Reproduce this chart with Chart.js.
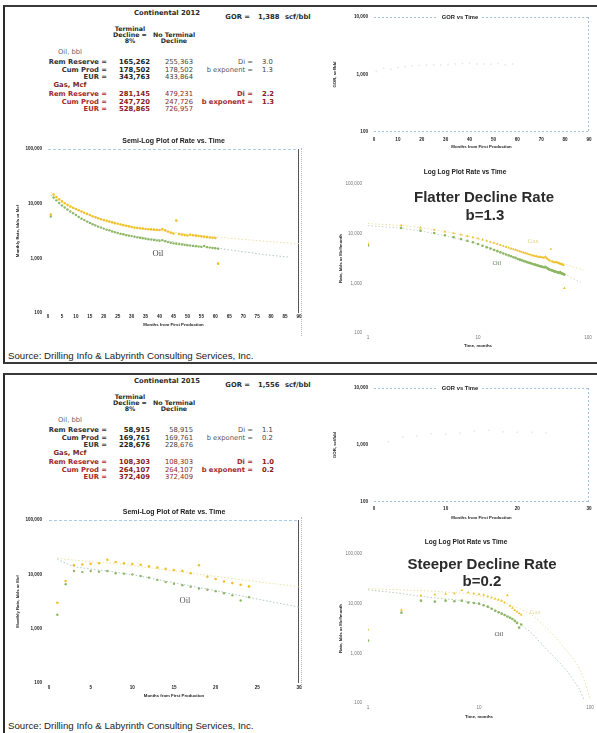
<!DOCTYPE html>
<html>
<head>
<meta charset="utf-8">
<title>Continental 2012 vs 2015 decline</title>
<script src="https://cdn.jsdelivr.net/npm/chart.js@4.4.1/dist/chart.umd.min.js"></script>
<style>
  html, body { margin: 0; padding: 0; background: #fff; }
  body { position: relative; width: 597px; height: 733px; overflow: hidden; font-family: "Liberation Sans", Arial, sans-serif; }
  canvas { position: absolute; }
  .panel { position: absolute; left: 3px; width: 620px; box-sizing: border-box; border-left: 2px solid #2a2a2a; border-top: 2px solid #3a3a3a; }
  #panel2012 { top: 5px; height: 359px; border-bottom: 2px solid #3a3a3a; }
  #panel2015 { top: 373px; height: 400px; }
  .sep { position: absolute; left: 301px; width: 0; border-left: 1px dotted #b5b5b5; }
  .t { position: absolute; white-space: nowrap; line-height: 1; font-weight: bold; color: #2b2b2b; font-size: 6.8px; font-family: "DejaVu Sans", sans-serif; }
</style>
</head>
<body>
<div class="panel" id="panel2012"></div>
<div class="panel" id="panel2015"></div>
<div class="sep" style="top:148px;height:188px"></div>
<div class="sep" style="top:517px;height:172px"></div>

<script>
/* =========================================
   Data
   ========================================= */

// Continental 2012 - monthly rates
const months2012 = [1,2,3,4,5,6,7,8,9,10,11,12,13,14,15,16,17,18,19,20,
    21,22,23,24,25,26,27,28,29,30,31,32,33,34,35,36,37,38,39,40,
    41,42,43,44,45,46,47,48,49,50,51,52,53,54,55,56,57,58,59,60,61];
const oil2012 = [5800,13000,11500,10300,9300,8500,7800,7200,6700,6200,
    5700,5300,5000,4700,4450,4200,4000,3800,3650,3500,
    3350,3250,3100,3000,2900,2800,2750,2650,2600,2550,
    2480,2420,2380,2330,2280,2240,2200,2160,2130,2100,
    2150,2050,1980,1930,1880,1850,1820,1790,1760,1740,
    1710,1690,1660,1640,1620,1680,1600,1570,1550,1530,1500];
const gas2012 = [6300,14700,13200,12000,11000,10200,9500,8900,8400,8000,
    7600,7200,6800,6500,6200,5900,5650,5400,5200,5000,
    4850,4700,4550,4400,4280,4150,4050,3950,3850,3750,
    3650,3600,3550,3500,3450,3400,3380,3350,3320,3300,
    3420,3250,3100,2950,2850,4900,2780,2720,2660,2620,
    2700,2650,2600,2560,2520,2480,2440,2400,2380,2350,800];
const oilFcstMonths2012 = [1,2,3,4,6,8,11,16,21,31,41,51,61,71,81,86];
const oilFcst2012 = [14500,12800,11300,10000,8300,7000,5800,4300,3400,2550,2150,1780,1530,1300,1120,1060];
const gasFcstMonths2012 = [1,2,3,4,6,8,11,16,21,31,41,51,61,71,81,91];
const gasFcst2012 = [16000,14500,13200,12000,10300,9000,7500,5800,4900,3700,3150,2750,2450,2200,2000,1850];
const gorMonths2012 = [1,4,7,10,13,16,19,22,25,28,31,34,37,40,43,46,49,52,55,58];
const gor2012 = [1130,1280,1240,1330,1380,1410,1430,1460,1480,1470,1490,1520,1550,1570,1530,1520,1500,1560,1480,1530];

// Continental 2015 - monthly rates
const months2015 = [1,2,3,4,5,6,7,8,9,10,11,12,13,14,15,16,17,18,19,20,21,22,23,24];
const oil2015 = [1800,6600,11500,11000,11500,11200,11500,10500,10300,10000,9300,8700,
    7900,7200,6700,6300,5900,5500,5200,4900,4500,4100,3300,3800];
const gas2015 = [3000,7500,14700,15200,15700,16000,18600,16900,16000,15500,15000,14000,
    13300,12600,12000,11500,10500,14700,9000,8200,7400,6900,6400,6000];
const oilFcstMonths2015 = [1,2,3,5,7,10,15,20,25,30,40,50,60,70,80,88];
const oilFcst2015 = [19000,16000,14000,12500,11500,9800,7000,5000,3500,2500,1250,750,480,300,190,120];
const gasFcstMonths2015 = [1,2,3,5,8,12,15,20,25,30,40,50,60,70,80,90,100];
const gasFcst2015 = [20000,19000,18300,17200,15700,13200,11500,9200,7300,5900,3300,2000,1200,800,500,260,120];
const gorMonths2015 = [2,4,6,8,10,12,14,16,18,20,22,24];
const gor2015 = [1140,1380,1430,1570,1550,1610,1750,1820,1700,1670,1680,1630];

// Axis ticks
const rateTicks = [100, 1000, 10000, 100000];
const gorTicks = [100, 1000, 10000];
const logTimeTicks = [1, 10, 100];

// Reserve tables: [label, terminal, noTerminal, sideLabel, sideValue]
const oilRows2012 = [['Rem Reserve =', '165,262', '255,363', 'Di =', '3.0'],
    ['Cum Prod =', '178,502', '178,502', 'b exponent =', '1.3'],
    ['EUR =', '343,763', '433,864', '', '']];
const gasRows2012 = [['Rem Reserve =', '281,145', '479,231', 'Di =', '2.2'],
    ['Cum Prod =', '247,720', '247,726', 'b exponent =', '1.3'],
    ['EUR =', '528,865', '726,957', '', '']];
const oilRows2015 = [['Rem Reserve =', '58,915', '58,915', 'Di =', '1.1'],
    ['Cum Prod =', '169,761', '169,761', 'b exponent =', '0.2'],
    ['EUR =', '228,676', '228,676', '', '']];
const gasRows2015 = [['Rem Reserve =', '108,303', '108,303', 'Di =', '1.0'],
    ['Cum Prod =', '264,107', '264,107', 'b exponent =', '0.2'],
    ['EUR =', '372,409', '372,409', '', '']];

/* =========================================
   Colours
   ========================================= */
const GAS = '#efc12c';
const OIL = '#8db763';
const GAS_F = '#eee0a0';
const OIL_F = '#aec8c6';
const GOR_C = 'rgba(180,188,196,0.3)';
const FRAME_BLUE = '#9fc2df';

Chart.defaults.font.family = '"Liberation Sans", Arial, sans-serif';

/* =========================================
   Helpers
   ========================================= */
function put(text, x, y, align, style) {
    const el = document.createElement('div');
    el.className = 't';
    el.textContent = text;
    el.style.left = x + 'px';
    el.style.top = y + 'px';
    const tx = align === 'r' ? '-100%' : (align === 'c' ? '-50%' : '0');
    el.style.transform = `translate(${tx}, -50%)`;
    if (style) Object.assign(el.style, style);
    document.body.appendChild(el);
}

function drawTable(o, name, gor, oilRows, gasRows) {
    put(name, 167, o + 13, 'c');
    put('GOR =', 250, o + 17, 'r');
    put(gor, 258, o + 17, 'l');
    put('scf/bbl', 285, o + 17, 'l');
    const hd = {fontSize: '6.3px'};
    put('Terminal', 130, o + 29, 'c', hd);
    put('Decline =', 130, o + 35, 'c', hd);
    put('8%', 130, o + 41, 'c', hd);
    put('No Terminal', 174, o + 35, 'c', hd);
    put('Decline', 174, o + 41, 'c', hd);

    put('Oil, bbl', 70, o + 52, 'c', {color: '#666', fontWeight: 'normal'});
    oilRows.forEach((r, i) => {
        const y = o + [62, 70, 77][i];
        put(r[0], 107, y, 'r', {color: '#333'});
        put(r[1], 150, y, 'r', {color: '#222'});
        put(r[2], 193, y, 'r', {color: '#444', fontWeight: 'normal'});
        if (r[3]) put(r[3], 253, y, 'r', {color: '#555', fontWeight: 'normal'});
        if (r[4]) put(r[4], 262, y, 'l', {color: '#444', fontWeight: 'normal'});
    });

    put('Gas, Mcf', 70, o + 85, 'c', {color: '#7a1f1f'});
    gasRows.forEach((r, i) => {
        const y = o + [94, 102, 109][i];
        put(r[0], 107, y, 'r', {color: '#a52a2a'});
        put(r[1], 150, y, 'r', {color: '#8a2020'});
        put(r[2], 193, y, 'r', {color: '#8a2a2a', fontWeight: 'normal'});
        if (r[3]) put(r[3], 253, y, 'r', {color: '#a52a2a'});
        if (r[4]) put(r[4], 262, y, 'l', {color: '#8a2020'});
    });
}

const pts = (xs, ys) => xs.map((x, i) => ({x: x, y: ys[i]}));
const dataSet = (xs, ys, color, style, r) => ({
    data: pts(xs, ys), showLine: false, pointStyle: style, pointRadius: r,
    pointBackgroundColor: color, pointBorderColor: color, pointBorderWidth: 0
});
const fcstSet = (xs, ys, color) => ({
    data: pts(xs, ys), showLine: true, pointRadius: 0, borderColor: color,
    borderWidth: 1, borderDash: [1.5, 2], cubicInterpolationMode: 'monotone'
});
const fmt = v => Number(v).toLocaleString('en-US');

// draws the plot-area edges (Excel style frame)
const framePlugin = {
    id: 'frame',
    beforeDatasetsDraw(chart, args, opts) {
        if (!opts.sides) return;
        const {ctx, chartArea: a} = chart;
        let gapL = null, gapR = null;
        if (opts.titleGap && chart.titleBlock) {
            const t = chart.options.plugins.title;
            ctx.save();
            ctx.font = Chart.helpers.toFont(t.font).string;
            const w = ctx.measureText(t.text).width + 8;
            ctx.restore();
            const tb = chart.titleBlock;
            const cx = tb.left + tb.width / 2;
            gapL = cx - w / 2;
            gapR = cx + w / 2;
        }
        ctx.save();
        Object.entries(opts.sides).forEach(([side, s]) => {
            ctx.strokeStyle = s.color;
            ctx.lineWidth = s.width || 1;
            ctx.setLineDash(s.dash || []);
            ctx.beginPath();
            if (side === 'top') {
                const y = a.top + 0.5;
                if (gapL !== null) {
                    ctx.moveTo(a.left, y); ctx.lineTo(gapL, y);
                    ctx.moveTo(gapR, y); ctx.lineTo(a.right, y);
                } else {
                    ctx.moveTo(a.left, y); ctx.lineTo(a.right, y);
                }
            } else if (side === 'bottom') {
                ctx.moveTo(a.left, a.bottom - 0.5); ctx.lineTo(a.right, a.bottom - 0.5);
            } else if (side === 'right') {
                ctx.moveTo(a.right - 0.5, a.top); ctx.lineTo(a.right - 0.5, a.bottom);
            } else if (side === 'left') {
                ctx.moveTo(a.left + 0.5, a.top); ctx.lineTo(a.left + 0.5, a.bottom);
            }
            ctx.stroke();
        });
        ctx.restore();
    }
};

// spec positions are page pixels; they are turned into paddings / axis sizes
function buildChart(spec) {
    const b = spec.box;
    const canvas = document.createElement('canvas');
    canvas.width = b.w; canvas.height = b.h;
    canvas.style.left = b.x + 'px'; canvas.style.top = b.y + 'px';
    canvas.style.width = b.w + 'px'; canvas.style.height = b.h + 'px';
    document.body.appendChild(canvas);

    const aL = spec.area.l - b.x, aT = spec.area.t - b.y, aR = spec.area.r - b.x, aB = spec.area.b - b.y;
    const padL = spec.padLeft || 0;
    const padR = b.w - aR;
    const ts = spec.title.size;
    const tTop = spec.title.y - b.y - ts / 2;

    const tickFont = {size: 4.6, weight: spec.tickWeight || 'bold', lineHeight: 1};
    const axFont = {size: 4.3, weight: 'bold', lineHeight: 1};

    const zeroPad = s => { s.paddingLeft = 0; s.paddingRight = 0; s.paddingTop = 0; s.paddingBottom = 0; };
    const setTicks = vals => s => { s.ticks = vals.map(v => ({value: v})); };

    const axis = (ax, horizontal) => ({
        type: ax.type, min: ax.min, max: ax.max,
        grid: {display: false, drawTicks: false},
        border: {display: false},
        ticks: {
            font: tickFont, color: spec.tickColor || '#222', autoSkip: false, maxRotation: 0,
            stepSize: ax.step,
            padding: horizontal ? (ax.tickY - spec.area.b - tickFont.size / 2) : (spec.area.l - ax.tickRight),
            callback: v => fmt(v)
        },
        afterBuildTicks: ax.ticks ? setTicks(ax.ticks) : undefined,
        afterFit: s => {
            if (horizontal) s.height = b.h - aB; else s.width = aL - padL;
            zeroPad(s);
        },
        title: {
            display: true, text: ax.title, font: axFont, color: '#222',
            padding: horizontal
                ? {top: 0, bottom: b.h - (ax.titleY - b.y) - axFont.size / 2}
                : {top: (ax.titleX - b.x) - padL - axFont.size / 2, bottom: 0}
        }
    });

    return new Chart(canvas, {
        type: 'scatter',
        data: {datasets: spec.datasets},
        options: {
            responsive: false,
            animation: false,
            devicePixelRatio: 1,
            layout: {padding: {left: padL, right: padR, top: 0, bottom: 0}},
            plugins: {
                legend: {display: false},
                tooltip: {enabled: false},
                title: {
                    display: true, text: spec.title.text, fullSize: spec.title.full,
                    color: '#222', font: {size: ts, weight: 'bold', lineHeight: 1},
                    padding: {top: tTop, bottom: aT - ts - tTop}
                },
                frame: spec.frame || {}
            },
            scales: {x: axis(spec.x, true), y: axis(spec.y, false)}
        },
        plugins: [framePlugin]
    });
}

const semiFrame = {sides: {
    top: {color: '#a9cbe6', dash: [3, 2]},
    right: {color: '#555'}
}};
const gorFrame = {titleGap: true, sides: {
    top: {color: FRAME_BLUE, dash: [2, 2]},
    right: {color: FRAME_BLUE, dash: [2, 2]},
    bottom: {color: FRAME_BLUE, dash: [2, 2]}
}};

const SERIF = '"Liberation Serif", serif';
const SANS = '"Liberation Sans", Arial, sans-serif';

/* =========================================
   Panel 2012
   ========================================= */
drawTable(0, 'Continental 2012', '1,388', oilRows2012, gasRows2012);

buildChart({
    box: {x: 0, y: 134, w: 304, h: 200},
    area: {l: 48, t: 149, r: 299, b: 313},
    title: {text: 'Semi-Log Plot of Rate vs. Time', size: 7, y: 141, full: false},
    x: {type: 'linear', min: 0, max: 90, step: 5, tickY: 317, title: 'Months from First Production', titleY: 325},
    y: {type: 'logarithmic', min: 100, max: 100000, ticks: rateTicks, tickRight: 42, title: 'Monthly Rate, bbls or Mcf', titleX: 18},
    frame: semiFrame,
    datasets: [
        dataSet(months2012, gas2012, GAS, 'circle', 1.3),
        dataSet(months2012, oil2012, OIL, 'circle', 1.2),
        fcstSet(gasFcstMonths2012, gasFcst2012, GAS_F),
        fcstSet(oilFcstMonths2012, oilFcst2012, OIL_F)
    ]
});

buildChart({
    box: {x: 305, y: 4, w: 290, h: 150},
    area: {l: 374, t: 17, r: 589, b: 132},
    padLeft: 26,
    title: {text: 'GOR vs Time', size: 5.8, y: 17, full: true},
    x: {type: 'linear', min: 0, max: 90, step: 10, tickY: 140, title: 'Months from First Production', titleY: 147},
    y: {type: 'logarithmic', min: 100, max: 10000, ticks: gorTicks, tickRight: 368, title: 'GOR, scf/bbl', titleX: 335},
    frame: gorFrame,
    datasets: [dataSet(gorMonths2012, gor2012, GOR_C, 'circle', 1)]
});

buildChart({
    box: {x: 330, y: 161, w: 265, h: 195},
    area: {l: 368, t: 184, r: 588, b: 333},
    padLeft: 12,
    title: {text: 'Log Log Plot Rate vs Time', size: 6.6, y: 172, full: true},
    tickColor: '#777', tickWeight: 'normal',
    x: {type: 'logarithmic', min: 1, max: 100, ticks: logTimeTicks, tickY: 338, title: 'Time, months', titleY: 346},
    y: {type: 'logarithmic', min: 100, max: 100000, ticks: rateTicks, tickRight: 362, title: 'Rate, bbls or Mcf/month', titleX: 341},
    datasets: [
        dataSet(months2012, gas2012, GAS, 'triangle', 1.6),
        dataSet(months2012, oil2012, OIL, 'circle', 1.3),
        fcstSet(gasFcstMonths2012, gasFcst2012, GAS_F),
        fcstSet(oilFcstMonths2012, oilFcst2012, '#c9d6c9')
    ]
});

put('Oil', 158, 253, 'c', {fontFamily: SERIF, fontWeight: 'normal', fontSize: '8.5px', color: '#444'});
put('Gas', 533, 241, 'c', {fontFamily: SERIF, fontWeight: 'normal', fontSize: '7px', color: '#e2d38c'});
put('Oil', 497, 263, 'c', {fontFamily: SERIF, fontWeight: 'normal', fontSize: '7px', color: '#6f8f68'});
put('Flatter Decline Rate', 484, 196, 'c', {fontFamily: SANS, fontSize: '15px', color: '#2b2b2b'});
put('b=1.3', 485, 214, 'c', {fontFamily: SANS, fontSize: '15px', color: '#2b2b2b'});
put('Source: Drilling Info & Labyrinth Consulting Services, Inc.', 8, 356, 'l', {fontFamily: SANS, fontSize: '9.7px', fontWeight: 'normal', color: '#222'});

/* =========================================
   Panel 2015
   ========================================= */
drawTable(368, 'Continental 2015', '1,556', oilRows2015, gasRows2015);

buildChart({
    box: {x: 0, y: 504, w: 304, h: 200},
    area: {l: 49, t: 520, r: 299, b: 683},
    title: {text: 'Semi-Log Plot of Rate vs. Time', size: 7, y: 512, full: false},
    x: {type: 'linear', min: 0, max: 30, step: 5, tickY: 688, title: 'Months from First Production', titleY: 696},
    y: {type: 'logarithmic', min: 100, max: 100000, ticks: rateTicks, tickRight: 42, title: 'Monthly Rate, bbls or Mcf', titleX: 18},
    frame: semiFrame,
    datasets: [
        dataSet(months2015, gas2015, GAS, 'circle', 1.3),
        dataSet(months2015, oil2015, OIL, 'circle', 1.2),
        fcstSet(gasFcstMonths2015, gasFcst2015, GAS_F),
        fcstSet(oilFcstMonths2015, oilFcst2015, OIL_F)
    ]
});

buildChart({
    box: {x: 305, y: 375, w: 290, h: 150},
    area: {l: 374, t: 388, r: 589, b: 502},
    padLeft: 26,
    title: {text: 'GOR vs Time', size: 5.8, y: 388, full: true},
    x: {type: 'linear', min: 0, max: 30, step: 10, tickY: 509, title: 'Months from First Production', titleY: 518},
    y: {type: 'logarithmic', min: 100, max: 10000, ticks: gorTicks, tickRight: 368, title: 'GOR, scf/bbl', titleX: 335},
    frame: gorFrame,
    datasets: [dataSet(gorMonths2015, gor2015, GOR_C, 'circle', 1)]
});

buildChart({
    box: {x: 330, y: 531, w: 265, h: 197},
    area: {l: 368, t: 554, r: 590, b: 703},
    padLeft: 12,
    title: {text: 'Log Log Plot Rate vs Time', size: 6.6, y: 542, full: true},
    tickColor: '#777', tickWeight: 'normal',
    x: {type: 'logarithmic', min: 1, max: 100, ticks: logTimeTicks, tickY: 708, title: 'Time, months', titleY: 717},
    y: {type: 'logarithmic', min: 100, max: 100000, ticks: rateTicks, tickRight: 362, title: 'Rate, bbls or Mcf/month', titleX: 341},
    datasets: [
        dataSet(months2015, gas2015, GAS, 'triangle', 1.6),
        dataSet(months2015, oil2015, OIL, 'circle', 1.3),
        fcstSet(gasFcstMonths2015, gasFcst2015, GAS_F),
        fcstSet(oilFcstMonths2015, oilFcst2015, '#b9cdb9')
    ]
});

put('Oil', 185, 600, 'c', {fontFamily: SERIF, fontWeight: 'normal', fontSize: '8.5px', color: '#555'});
put('Gas', 535, 612, 'c', {fontFamily: SERIF, fontWeight: 'normal', fontSize: '7px', color: '#e6d9a0'});
put('Oil', 499, 634, 'c', {fontFamily: SERIF, fontWeight: 'normal', fontSize: '7px', color: '#555'});
put('Steeper Decline Rate', 482, 563, 'c', {fontFamily: SANS, fontSize: '15px', color: '#2b2b2b'});
put('b=0.2', 482, 580, 'c', {fontFamily: SANS, fontSize: '15px', color: '#2b2b2b'});
put('Source: Drilling Info & Labyrinth Consulting Services, Inc.', 8, 726, 'l', {fontFamily: SANS, fontSize: '9.7px', fontWeight: 'normal', color: '#222'});
</script>
</body>
</html>
